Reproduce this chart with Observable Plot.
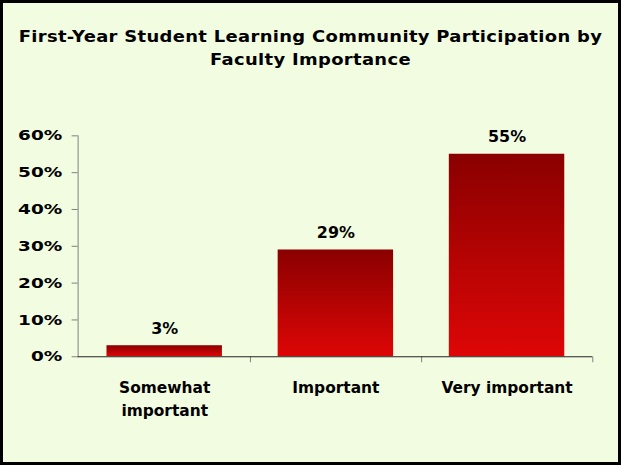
<!DOCTYPE html>
<html><head><meta charset="utf-8">
<script src="https://cdn.jsdelivr.net/npm/d3@7"></script>
<script src="https://cdn.jsdelivr.net/npm/@observablehq/plot@0.6"></script>
<style>
html,body{margin:0;padding:0;background:#F2FCE0;}
#frame{position:relative;width:621px;height:465px;box-sizing:border-box;border:3px solid #000;background:#F2FCE0;overflow:hidden;font-family:"DejaVu Sans",sans-serif;}
#title{position:absolute;left:0;right:0;top:22px;text-align:center;font-weight:bold;font-size:16px;line-height:23px;color:#000;letter-spacing:0.3px;transform:scaleX(1.12);transform-origin:50% 50%;}
#chart{position:absolute;left:-3px;top:-3px;}
</style>
</head><body>
<div id="frame">
  <div id="chart"></div>
  <div id="title">First-Year Student Learning Community Participation by<br>Faculty Importance</div>
</div>
<script>
const categories = ["Somewhat important", "Important", "Very important"];
const axisLabels = ["Somewhat\nimportant", "Important", "Very important"];
const values = [3, 29, 55];
const yTicks = [0, 10, 20, 30, 40, 50, 60];

const data = categories.map((c, i) => ({cat: c, label: axisLabels[i], value: values[i]}));

const defs = () => {
  const d = d3.create("svg:defs");
  const g = d.append("linearGradient").attr("id", "barGrad")
    .attr("x1", 0).attr("y1", 0).attr("x2", 0).attr("y2", 1);
  g.append("stop").attr("offset", "0%").attr("stop-color", "#8A0000");
  g.append("stop").attr("offset", "100%").attr("stop-color", "#DE0606");
  return d.node();
};

const W = 621, H = 465, mL = 78, mR = 26, mT = 136, mB = 107;
const bw = (W - mL - mR) / categories.length;

const chart = Plot.plot({
  width: W, height: H,
  marginLeft: mL, marginRight: mR, marginTop: mT, marginBottom: mB,
  style: {background: "transparent", fontFamily: "DejaVu Sans, sans-serif", overflow: "visible", color: "#000"},
  x: {domain: categories, padding: 0, axis: null},
  y: {domain: [0, 60], axis: null},
  marks: [
    defs,
    Plot.barY(data, {x: "cat", y: "value", fill: "url(#barGrad)", insetLeft: 28, insetRight: 28}),
    Plot.frame({anchor: "left", stroke: "#808080"}),
    Plot.axisY({ticks: yTicks, text: null, label: null, tickSize: 6, stroke: "#808080"}),
    Plot.axisY({ticks: yTicks, label: null, tickSize: 0, tickPadding: 16, tickFormat: d => d + "%", fontSize: 14.5, fontWeight: "bold", fill: "#000"}),
    Plot.axisX({text: null, label: null, tickSize: 6, dx: bw / 2, stroke: "#808080"}),
    Plot.ruleY([0], {stroke: "#222"}),
    Plot.text(data, {x: "cat", frameAnchor: "bottom", dy: 20, lineAnchor: "top", text: "label", lineHeight: 1.5, fontSize: 15.5, fontWeight: "bold", fill: "#000", ariaLabel: "xlabels"}),
    Plot.text(data, {x: "cat", y: "value", text: d => d.value + "%", dy: -17, lineAnchor: "middle", fontSize: 16, fontWeight: "bold", fill: "#000", ariaLabel: "vlabels"})
  ]
});
document.getElementById("chart").appendChild(chart);

// widen glyphs to mimic the reference's stretched typeface
function stretch(selector, k) {
  chart.querySelectorAll(selector).forEach(el => {
    const tspans = el.querySelectorAll("tspan");
    const targets = tspans.length ? Array.from(tspans) : [el];
    targets.forEach(t => {
      const len = t.getComputedTextLength();
      if (len > 0) {
        t.setAttribute("textLength", len * k);
        t.setAttribute("lengthAdjust", "spacingAndGlyphs");
      }
    });
  });
}
stretch('g[aria-label="y-axis tick label"] text', 1.28);
stretch('g[aria-label="vlabels"] text', 1.15);
stretch('g[aria-label="xlabels"] text', 1.06);
</script>
</body></html>
